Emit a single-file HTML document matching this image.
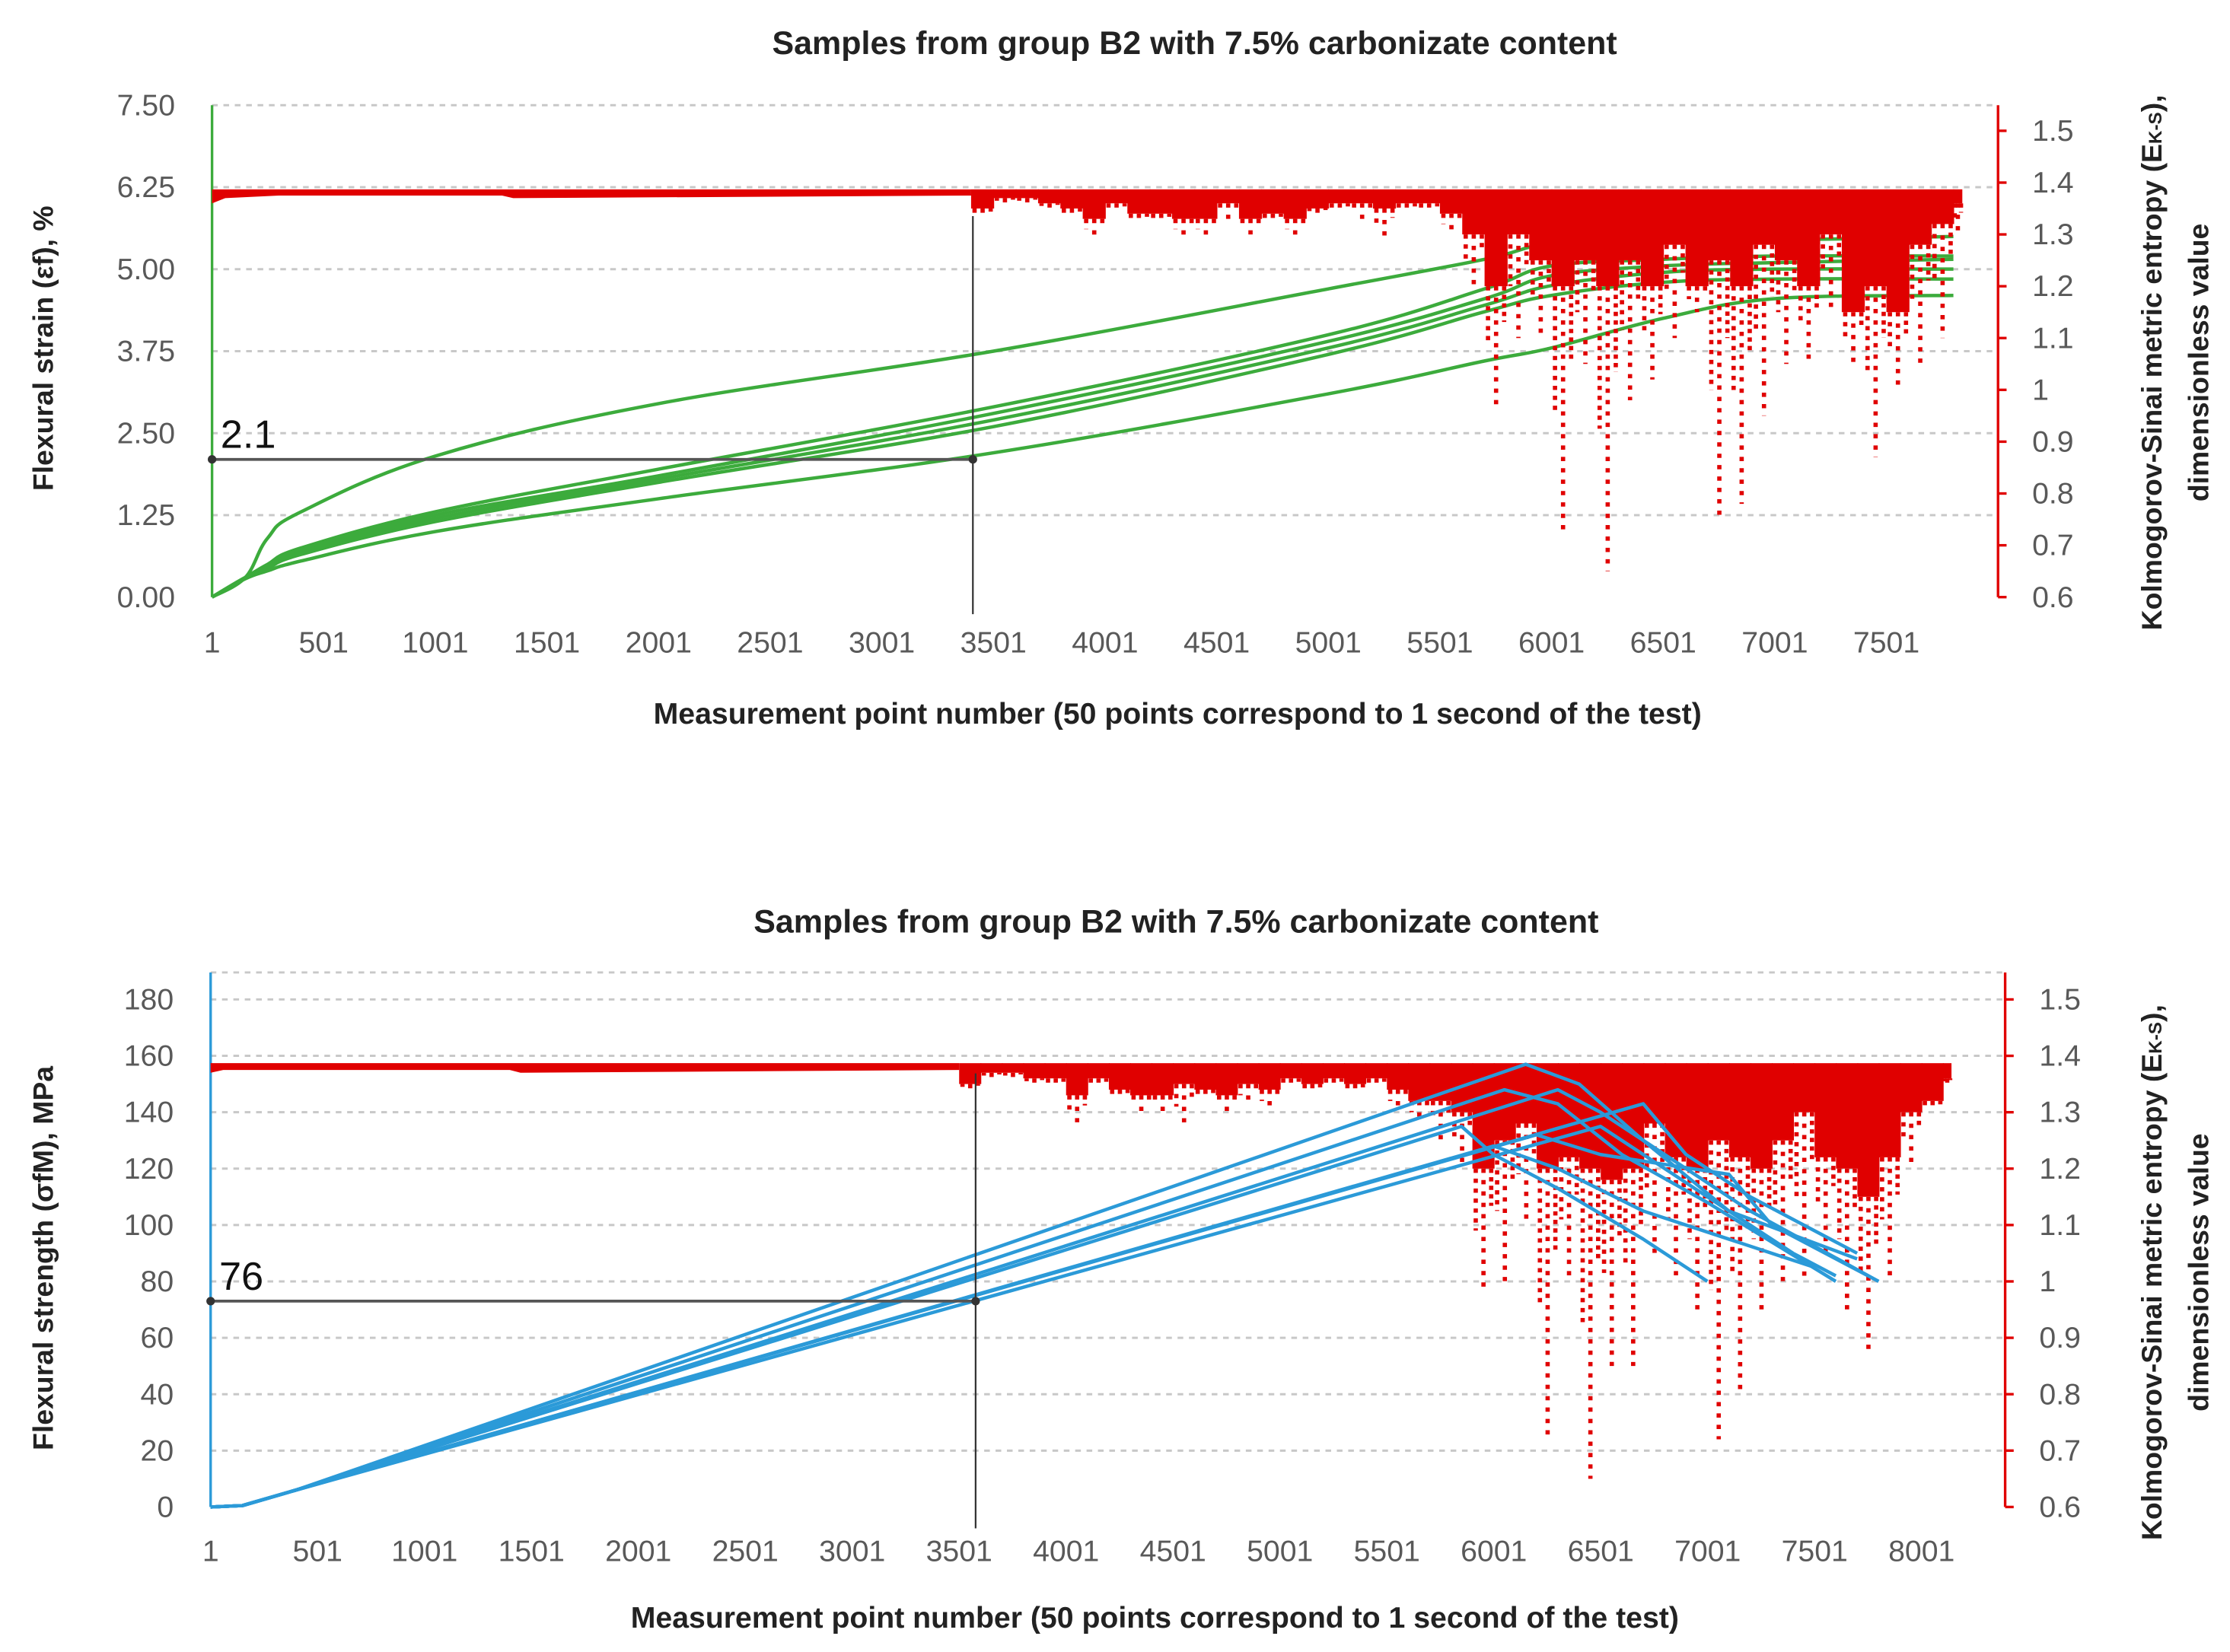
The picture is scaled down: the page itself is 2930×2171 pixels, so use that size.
<!DOCTYPE html>
<html><head><meta charset="utf-8"><style>
html,body{margin:0;padding:0;background:#fff;}
svg{display:block;font-family:"Liberation Sans",sans-serif;}
</style></head><body>
<svg id="fig" width="2930" height="2171" viewBox="0 0 1568 1162" xmlns="http://www.w3.org/2000/svg">
<g id="c1"></g>
<g id="c2"></g>
</svg>
<script>
// ===== Chart 1 data (flexural strain) =====
const strainTicks = ["0.00","1.25","2.50","3.75","5.00","6.25","7.50"];
const strainTickVals = [0,1.25,2.5,3.75,5,6.25,7.5];
const xTicks1 = [1,501,1001,1501,2001,2501,3001,3501,4001,4501,5001,5501,6001,6501,7001,7501];
const entTicks = [0.6,0.7,0.8,0.9,1,1.1,1.2,1.3,1.4,1.5];
const entTickLabels = ["0.6","0.7","0.8","0.9","1","1.1","1.2","1.3","1.4","1.5"];
const greenX1 = [1,150,250,400,1001,2001,3501,5001,5701,6001,6501,7001,7801];
const greenS1 = [0,0.3,0.9,1.3,2.15,2.95,3.75,4.7,5.15,5.4,5.5,5.45,5.5];
const greenS2 = [0,0.3,0.5,0.75,1.3,1.95,2.9,4.0,4.7,5.05,5.15,5.2,5.2];
const greenS3 = [0,0.3,0.48,0.72,1.25,1.85,2.8,3.9,4.55,4.9,5.05,5.1,5.15];
const greenS4 = [0,0.3,0.46,0.68,1.2,1.8,2.7,3.8,4.45,4.75,4.95,5.0,5.0];
const greenS5 = [0,0.3,0.44,0.65,1.15,1.75,2.6,3.7,4.35,4.6,4.8,4.85,4.85];
const greenS6 = [0,0.28,0.4,0.55,1.0,1.5,2.2,3.1,3.6,3.8,4.25,4.55,4.6];
const entX1 = [3401,3501,3601,3701,3801,3901,4001,4101,4201,4301,4401,4501,4601,4701,4801,4901,5001,5101,5201,5301,5401,5501,5601,5701,5801,5901,6001,6101,6201,6301,6401,6501,6601,6701,6801,6901,7001,7101,7201,7301,7401,7501,7601,7701,7801];
const entDense1 = [1.35,1.37,1.37,1.36,1.35,1.33,1.36,1.34,1.34,1.33,1.33,1.36,1.33,1.34,1.33,1.35,1.36,1.36,1.35,1.36,1.36,1.34,1.3,1.2,1.3,1.25,1.2,1.25,1.2,1.25,1.2,1.28,1.2,1.25,1.2,1.28,1.25,1.2,1.3,1.15,1.2,1.15,1.28,1.32,1.36];
const entMin1 = [1.33,1.36,1.36,1.35,1.33,1.29,1.34,1.32,1.32,1.29,1.29,1.33,1.3,1.32,1.29,1.34,1.34,1.33,1.29,1.34,1.34,1.3,1.2,0.97,1.1,1.1,0.72,1.05,0.65,0.98,1.02,1.1,1.15,0.75,0.78,0.95,1.05,1.05,1.15,1.05,0.87,1.0,1.05,1.1,1.3];
const flatX1 = [1,60,300,1300,1350,3400];
const flatV1 = [1.36,1.37,1.375,1.375,1.37,1.375];
const cross1 = [3409, 2.1];

// ===== Chart 2 data (flexural strength) =====
const strengthTickVals = [0,20,40,60,80,100,120,140,160,180];
const strengthTicks = ["0","20","40","60","80","100","120","140","160","180"];
const xTicks2 = [1,501,1001,1501,2001,2501,3001,3501,4001,4501,5001,5501,6001,6501,7001,7501,8001];
const blueX = [
 [1,150,400,6150,6400,6700,7100,7700],
 [1,150,400,6050,6300,6600,7000,7600],
 [1,150,400,6300,6500,6800,7200,7800],
 [1,150,400,6700,6900,7200,7500,7700],
 [1,150,400,5850,6000,6300,6700,7000],
 [1,150,400,6500,6800,7200,7400,7600],
 [1,150,400,6000,6300,6700,7100,7500],
 [1,150,400,6200,6500,7100,7300,7800]];
const blueY = [
 [0,0.5,6,157,150,130,105,88],
 [0,0.5,6,148,143,125,108,80],
 [0,0.5,6,148,140,125,105,80],
 [0,0.5,6,143,125,110,98,90],
 [0,0.5,6,135,125,113,95,80],
 [0,0.5,6,135,120,100,90,82],
 [0,0.5,6,128,120,105,95,85],
 [0,0.5,6,132,125,118,100,80]];
const entX2 = [3501,3601,3701,3801,3901,4001,4101,4201,4301,4401,4501,4601,4701,4801,4901,5001,5101,5201,5301,5401,5501,5601,5701,5801,5901,6001,6101,6201,6301,6401,6501,6601,6701,6801,6901,7001,7101,7201,7301,7401,7501,7601,7701,7801,7901,8001,8101];
const entDense2 = [1.35,1.37,1.37,1.36,1.36,1.33,1.36,1.34,1.33,1.33,1.35,1.34,1.33,1.35,1.34,1.36,1.35,1.36,1.35,1.36,1.34,1.32,1.32,1.3,1.2,1.25,1.28,1.2,1.22,1.2,1.18,1.2,1.28,1.22,1.2,1.25,1.22,1.2,1.25,1.3,1.22,1.2,1.15,1.22,1.3,1.32,1.36];
const entMin2 = [1.34,1.36,1.36,1.35,1.34,1.27,1.34,1.32,1.3,1.3,1.27,1.32,1.3,1.31,1.3,1.34,1.33,1.34,1.33,1.34,1.3,1.28,1.25,1.2,0.98,1.0,1.1,0.72,1.0,0.65,0.85,0.85,1.05,1.0,0.95,0.72,0.8,0.95,1.0,1.0,1.05,0.95,0.87,1.0,1.2,1.3,1.35];
const flatX2 = [1,60,300,1400,1450,3500];
const flatV2 = [1.37,1.375,1.375,1.375,1.37,1.375];
const cross2 = [3578, 73];

const NS="http://www.w3.org/2000/svg";
function mk(parent,tag,attrs,text){const e=document.createElementNS(NS,tag);for(const k in attrs)e.setAttribute(k,attrs[k]);if(text!==undefined)e.textContent=text;parent.appendChild(e);return e;}
function smoothPath(P){
  let d='M'+P[0][0].toFixed(1)+','+P[0][1].toFixed(1);
  for(let i=0;i<P.length-1;i++){
    const p0=P[Math.max(0,i-1)],p1=P[i],p2=P[i+1],p3=P[Math.min(P.length-1,i+2)];
    const t=0.18;
    const c1=[p1[0]+(p2[0]-p0[0])*t,p1[1]+(p2[1]-p0[1])*t];
    const c2=[p2[0]-(p3[0]-p1[0])*t,p2[1]-(p3[1]-p1[1])*t];
    d+=' C'+c1[0].toFixed(1)+','+c1[1].toFixed(1)+' '+c2[0].toFixed(1)+','+c2[1].toFixed(1)+' '+p2[0].toFixed(1)+','+p2[1].toFixed(1);
  }
  return d;
}
function linePath(P){return 'M'+P.map(p=>p[0].toFixed(1)+','+p[1].toFixed(1)).join(' L');}

function drawChart(g,cfg){
  const X=v=>cfg.x0+(v-1)/cfg.xStep*cfg.xPer;
  const Y=v=>cfg.yB-(v-cfg.yMin)/(cfg.yMax-cfg.yMin)*(cfg.yB-cfg.yT);
  const R=v=>cfg.yB-(v-0.6)/0.9*(cfg.yB-cfg.rT);
  cfg.gridVals.forEach(v=>{
    const l=mk(g,'line',{x1:cfg.x0,x2:cfg.xR,y1:Y(v),y2:Y(v),stroke:'#c8c8c8','stroke-width':1.6,'stroke-dasharray':'4 4'});
    
    
  });
  if(cfg.topGrid){const l=mk(g,'line',{x1:cfg.x0,x2:cfg.xR,y1:cfg.topGrid,y2:cfg.topGrid,stroke:'#c8c8c8','stroke-width':1.6,'stroke-dasharray':'4 4'});}
  const la=mk(g,'line',{x1:cfg.x0,x2:cfg.x0,y1:cfg.axTop,y2:cfg.yB,stroke:cfg.lc,'stroke-width':1.8});
  
  
  cfg.yTickVals.forEach((v,i)=>{
    const t=mk(g,'text',{x:cfg.x0-26,y:Y(v)+7,'text-anchor':'end','font-size':21,fill:'#595959'},cfg.yTicks[i]);
    
    
  });
  const ra=mk(g,'line',{x1:cfg.xR,x2:cfg.xR,y1:cfg.axTop,y2:cfg.yB,stroke:'#e00000','stroke-width':1.8});
  
  
  entTicks.forEach((v,i)=>{
    mk(g,'line',{x1:cfg.xR,x2:cfg.xR+6,y1:R(v),y2:R(v),stroke:'#e00000','stroke-width':1.8});
    const t=mk(g,'text',{x:cfg.xR+24,y:R(v)+7,'font-size':21,fill:'#595959'},entTickLabels[i]);
    
    
  });
  cfg.xTicks.forEach(v=>{
    const t=mk(g,'text',{x:X(v),y:cfg.xLabY,'text-anchor':'middle','font-size':21,fill:'#595959'},String(v));
    
    
  });
  const drawLines=()=>{
    cfg.series.forEach((s,i)=>{
      const P=s.x.map((xx,j)=>[X(xx),Y(s.y[j])]);
      const p=mk(g,'path',{d:cfg.smooth?smoothPath(P):linePath(P),fill:'none',stroke:cfg.lc,'stroke-width':2.4,'stroke-linejoin':'round'});
      
      
    });
  };
  const drawEnt=()=>{
    const eg=mk(g,'g',{});
    
    
    const top=R(1.387);
    let d='M'+X(cfg.flatX[0])+','+top;
    cfg.flatX.forEach((xx,i)=>{d+=' L'+X(xx)+','+R(cfg.flatV[i]);});
    d+=' L'+X(cfg.entX[0])+','+R(cfg.flatV[cfg.flatV.length-1])+' L'+X(cfg.entX[0])+','+top+' Z';
    mk(eg,'path',{d:d,fill:'#e00000'});
    const w=X(101)-X(1);
    const n=cfg.entX.length;
    cfg.entX.forEach((xx,i)=>{
      const ww=(i===n-1)?w*0.4:w+0.5;
      mk(eg,'rect',{x:X(xx),y:top,width:ww,height:R(cfg.dense[i])-top,fill:'#e00000'});
      const cx=X(xx)+ww*0.5;
      mk(eg,'line',{x1:cx,x2:cx,y1:R(cfg.dense[i]),y2:R(cfg.min[i]),stroke:'#e00000','stroke-width':3,'stroke-dasharray':'3 5'});
      const cx2=X(xx)+ww*0.15;
      const mid=(cfg.dense[i]+cfg.min[i])/2;
      mk(eg,'line',{x1:cx2,x2:cx2,y1:R(cfg.dense[i]),y2:R(mid),stroke:'#e00000','stroke-width':3,'stroke-dasharray':'3 4'});
      const cx3=X(xx)+ww*0.85;
      const q=cfg.dense[i]-(cfg.dense[i]-cfg.min[i])*0.3;
      mk(eg,'line',{x1:cx3,x2:cx3,y1:R(cfg.dense[i]),y2:R(q),stroke:'#e00000','stroke-width':3,'stroke-dasharray':'3 3'});
    });
  };
  if(cfg.redOnTop){drawLines();drawEnt();}else{drawEnt();drawLines();}
  const cx=X(cfg.cross[0]), cy=Y(cfg.cross[1]);
  const h=mk(g,'line',{x1:cfg.x0,x2:cx,y1:cy,y2:cy,stroke:'#555','stroke-width':2});
  
  
  const vv=mk(g,'line',{x1:cx,x2:cx,y1:cfg.vTop,y2:cfg.vBot,stroke:'#333','stroke-width':1.2});
  
  
  mk(g,'circle',{cx:cfg.x0,cy:cy,r:3,fill:'#333'});
  mk(g,'circle',{cx:cx,cy:cy,r:3,fill:'#333'});
  const lab=mk(g,'text',{x:cfg.x0+6,y:cy-8,'font-size':28,fill:'#111'},cfg.crossLabel);
  
  
  const tt=mk(g,'text',{x:cfg.titleX,y:cfg.titleY,'text-anchor':'middle','font-size':23,'font-weight':'bold',fill:'#222'},'Samples from group B2 with 7.5% carbonizate content');
  
  
  const xt=mk(g,'text',{x:cfg.xtX,y:cfg.xtY,'text-anchor':'middle','font-size':21,'font-weight':'bold',fill:'#222'},'Measurement point number (50 points correspond to 1 second of the test)');
  
  
  const yt=mk(g,'text',{x:0,y:0,'text-anchor':'middle','font-size':20,'font-weight':'bold',fill:'#222',transform:'translate('+cfg.ytX+','+cfg.ytY+') rotate(-90)'},cfg.yTitle);
  
  
  const r1=mk(g,'text',{x:0,y:0,'text-anchor':'middle','font-size':20,'font-weight':'bold',fill:'#222',transform:'translate(1520,'+cfg.rtY+') rotate(-90)'},'Kolmogorov-Sinai metric entropy (E');
  mk(r1,'tspan',{'font-size':13},'K-S');
  mk(r1,'tspan',{},'),');
  
  
  const r2=mk(g,'text',{x:0,y:0,'text-anchor':'middle','font-size':20,'font-weight':'bold',fill:'#222',transform:'translate(1553,'+cfg.rtY+') rotate(-90)'},'dimensionless value');
  
  
}

drawChart(document.getElementById('c1'),{
  x0:149,xR:1405,xStep:500,xPer:78.5,yB:420,yT:74,yMin:0,yMax:7.5,rT:92,axTop:74,
  gridVals:[1.25,2.5,3.75,5,6.25,7.5],yTickVals:strainTickVals,yTicks:strainTicks,
  xTicks:xTicks1,xLabY:459,lc:'#3cab3c',smooth:true,
  series:[greenS1,greenS2,greenS3,greenS4,greenS5,greenS6].map(y=>({x:greenX1,y:y})),
  entX:entX1,dense:entDense1,min:entMin1,flatX:flatX1,flatV:flatV1,redOnTop:true,
  cross:cross1,crossLabel:'2.1',vTop:152,vBot:432,
  titleX:840,titleY:38,xtX:828,xtY:509,yTitle:'Flexural strain (εf), %',ytX:37,ytY:245,rtY:255
});
drawChart(document.getElementById('c2'),{
  x0:148,xR:1410,xStep:500,xPer:75.2,yB:1060,yT:703,yMin:0,yMax:180,rT:703,axTop:684,topGrid:684,
  gridVals:[20,40,60,80,100,120,140,160,180],yTickVals:strengthTickVals,yTicks:strengthTicks,
  xTicks:xTicks2,xLabY:1098,lc:'#2b9ad8',smooth:false,
  series:blueX.map((x,i)=>({x:x,y:blueY[i]})),
  entX:entX2,dense:entDense2,min:entMin2,flatX:flatX2,flatV:flatV2,redOnTop:false,
  cross:cross2,crossLabel:'76',vTop:755,vBot:1075,
  titleX:827,titleY:656,xtX:812,xtY:1145,yTitle:'Flexural strength (σfM), MPa',ytX:37,ytY:885,rtY:895
});
</script>
</body></html>
